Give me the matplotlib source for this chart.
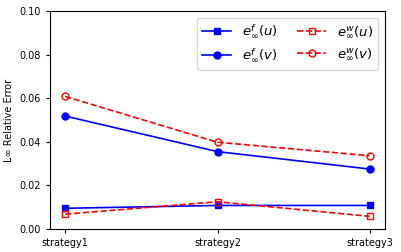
import numpy as np
import matplotlib
matplotlib.use("Agg")
import matplotlib.pyplot as plt

strategies = ["strategy1", "strategy2", "strategy3"]
ef_u = [0.0095, 0.0108, 0.0108]
ef_v = [0.0518, 0.0355, 0.0275]
ew_u = [0.0068, 0.0125, 0.0058]
ew_v = [0.0608, 0.0398, 0.0336]

fig = plt.figure(figsize=(4.01, 2.52), dpi=100)
ax = fig.add_axes([50 / 401, 23 / 252, 335 / 401, 218 / 252])

x = np.arange(len(strategies))
ax.plot(x, ef_u, color="blue", marker="s", ms=5, lw=1.2, label=r"$e^f_\infty(u)$")
ax.plot(x, ef_v, color="blue", marker="o", ms=5, lw=1.2, label=r"$e^f_\infty(v)$")
ax.plot(x, ew_u, color="red", ls="--", marker="s", ms=5, mfc="none", lw=1.2,
        label=r"$e^w_\infty(u)$")
ax.plot(x, ew_v, color="red", ls="--", marker="o", ms=5, mfc="none", lw=1.2,
        label=r"$e^w_\infty(v)$")

ax.set_ylim(0, 0.1)
ax.set_yticks([0, 0.02, 0.04, 0.06, 0.08, 0.10])
ax.set_xticks(x)
ax.set_xticklabels(strategies)
ax.tick_params(labelsize=7, length=3)
ax.set_ylabel("L∞ Relative Error", fontsize=7)
ax.legend(loc="upper right", ncol=2, fontsize=9.5, handlelength=2.2, columnspacing=1.5)

fig.savefig("out.png", dpi=100)
